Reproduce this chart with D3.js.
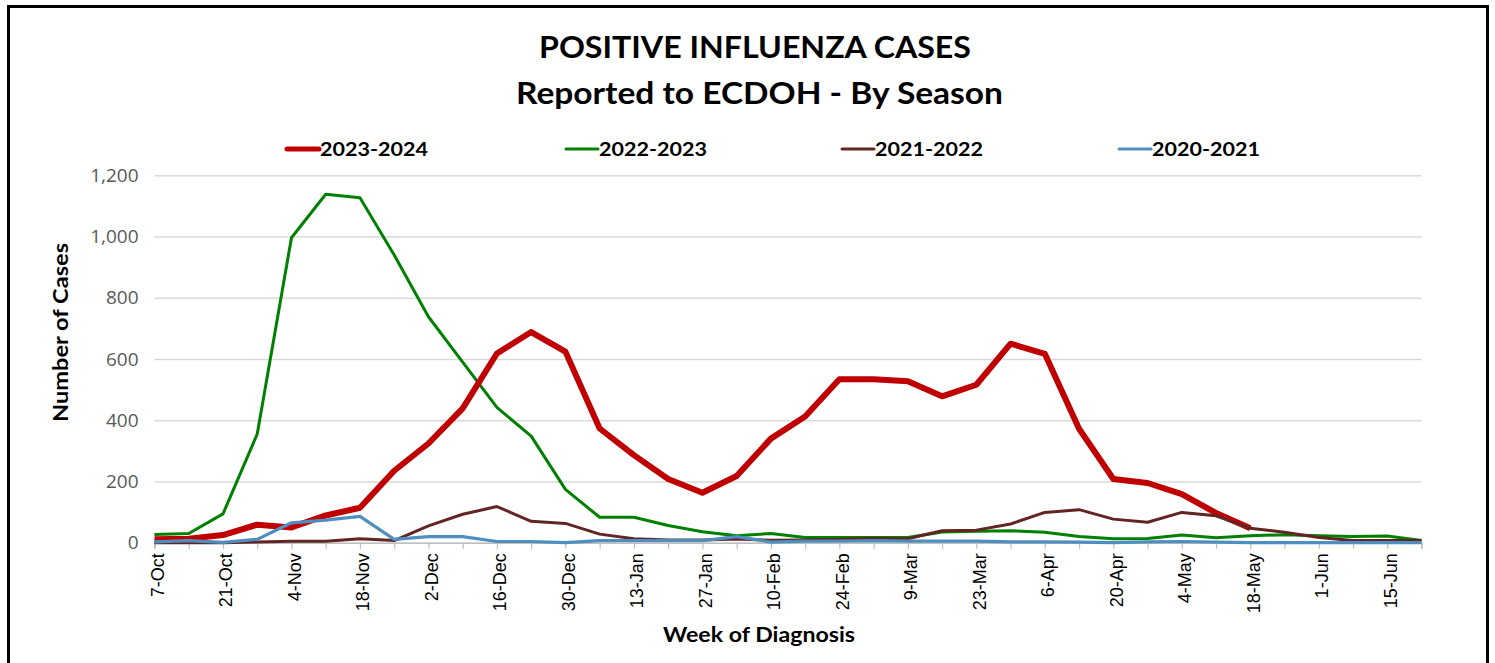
<!doctype html>
<html lang="en">

<head>
    <meta charset="utf-8">
    <title>Positive influenza cases by season</title>
    <style>
        body {
            margin: 0;
            background: #fff;
            font-family: Lato, "Open Sans", Arial, sans-serif;
        }
    </style>
</head>

<body>
    <div id="chart"></div>
</body>
<script src="https://d3js.org/d3.v7.min.js"></script>
<script>

    // week of diagnosis (first day of week)
    var weeks = ["7-Oct", "14-Oct", "21-Oct", "28-Oct", "4-Nov", "11-Nov", "18-Nov", "25-Nov",
        "2-Dec", "9-Dec", "16-Dec", "23-Dec", "30-Dec", "6-Jan", "13-Jan", "20-Jan", "27-Jan",
        "3-Feb", "10-Feb", "17-Feb", "24-Feb", "2-Mar", "9-Mar", "16-Mar", "23-Mar", "30-Mar",
        "6-Apr", "13-Apr", "20-Apr", "27-Apr", "4-May", "11-May", "18-May", "25-May", "1-Jun",
        "8-Jun", "15-Jun", "22-Jun"];

    var seasons = ["2023-2024", "2022-2023", "2021-2022", "2020-2021"];

    // current season stops at 18-May
    var cases2023 = [11, 13, 25, 59, 50, 89, 114, 235, 324, 439, 618, 688, 624, 373, 286, 208, 163,
        218, 340, 412, 534, 534, 527, 478, 516, 650, 617, 372, 208, 195, 159, 97, 47,
        null, null, null, null, null];
    var cases2022 = [27, 30, 94, 355, 996, 1138, 1127, 940, 738, 590, 442, 348, 174, 83, 83, 56, 36,
        23, 30, 17, 17, 17, 17, 35, 37, 39, 34, 20, 13, 14, 25, 16, 23, 26, 23, 20, 22, 7];
    var cases2021 = [0, 0, 0, 2, 5, 5, 13, 7, 55, 93, 118, 70, 63, 28, 13, 9, 9,
        12, 8, 9, 11, 14, 13, 39, 41, 61, 99, 108, 77, 67, 99, 88, 47, 34, 17, 7, 7, 7];
    var cases2020 = [3, 7, 1, 11, 65, 74, 86, 11, 20, 20, 4, 4, 0, 7, 7, 7, 7,
        20, 2, 5, 5, 7, 5, 5, 5, 3, 3, 2, 0, 3, 4, 2, 0, 0, 0, 0, 0, 0];

    var yTicks = [0, 200, 400, 600, 800, 1000, 1200];

    var colours = ["#c00000", "#008000", "#632523", "#4f8fc0"];
    var widths = [6, 3, 3, 3.2];
    var series = [cases2023, cases2022, cases2021, cases2020];

    var W = 1495, H = 663;
    var plotLeft = 154.5, plotRight = 1421.5, plotTop = 175.3, plotBottom = 542.7;

    var svg = d3.select("#chart").append("svg")
        .attr("width", W)
        .attr("height", H);

    var x = d3.scalePoint().domain(weeks).range([plotLeft, plotRight]);
    var y = d3.scaleLinear().domain([0, 1200]).range([plotBottom, plotTop]);

    // frame round the chart (runs off the bottom of the picture)
    svg.append("rect")
        .attr("x", 8.5).attr("y", 6.5)
        .attr("width", 1479).attr("height", 720)
        .style("fill", "none")
        .style("stroke", "#000")
        .style("stroke-width", 3);

    // gridlines
    svg.append("g")
        .attr("transform", "translate(" + plotLeft + ",0)")
        .call(d3.axisLeft(y).tickValues(yTicks).tickSize(-(plotRight - plotLeft)).tickFormat(""))
        .call(function (g) { g.select(".domain").remove(); })
        .selectAll("line")
        .style("stroke", "#d9d9d9")
        .style("stroke-width", 1.5);

    // y axis labels
    svg.append("g")
        .attr("transform", "translate(" + plotLeft + ",0)")
        .call(d3.axisLeft(y).tickValues(yTicks).tickSize(0).tickPadding(16).tickFormat(d3.format(",")))
        .call(function (g) { g.select(".domain").remove(); })
        .selectAll("text")
        .style("font-family", "'Open Sans', sans-serif")
        .style("font-size", "19px")
        .style("fill", "#595959");

    // x axis, a tick every week, a label every two
    var xAxis = svg.append("g")
        .attr("transform", "translate(0," + plotBottom + ")")
        .call(d3.axisBottom(x).tickSize(6).tickPadding(0)
            .tickFormat(function (d, i) { return i % 2 === 0 ? d : ""; }));
    xAxis.select(".domain").style("stroke", "#bfbfbf").style("stroke-width", 1.5);
    xAxis.selectAll("line").style("stroke", "#bfbfbf").style("stroke-width", 1.2);
    xAxis.selectAll("text")
        .attr("transform", "rotate(-90)")
        .attr("x", -10.5)
        .attr("y", 0)
        .attr("dy", "0.5em")
        .style("text-anchor", "end")
        .style("font-family", "'Liberation Sans', Arial, sans-serif")
        .style("font-size", "18px")
        .style("fill", "#000");

    // lines: draw order so that brown/blue sit over red like the original
    var line = d3.line()
        .defined(function (d) { return d != null; })
        .x(function (d, i) { return x(weeks[i]); })
        .y(function (d) { return y(d); });

    [1, 0, 2, 3].forEach(function (k) {
        svg.append("path")
            .datum(series[k])
            .attr("d", line)
            .style("fill", "none")
            .style("stroke", colours[k])
            .style("stroke-width", widths[k])
            .style("stroke-linejoin", "round");
    });

    // titles
    function boldText(txt, cx, by, size, len) {
        return svg.append("text")
            .attr("x", cx).attr("y", by)
            .attr("text-anchor", "middle")
            .attr("textLength", len)
            .attr("lengthAdjust", "spacingAndGlyphs")
            .style("font-weight", "bold")
            .style("font-size", size + "px")
            .style("fill", "#000")
            .text(txt);
    }
    boldText("POSITIVE INFLUENZA CASES", 755, 57.5, 30, 432);
    boldText("Reported to ECDOH - By Season", 759.5, 104, 30, 487);
    boldText("Week of Diagnosis", 759, 642, 21, 192);
    boldText("Number of Cases", 0, 0, 21, 179)
        .attr("transform", "translate(68,332.5) rotate(-90)");

    // legend
    var legendX = [287, 566, 842, 1119];
    var legend = svg.append("g").selectAll("g")
        .data(seasons)
        .enter().append("g")
        .attr("transform", function (d, i) { return "translate(" + legendX[i] + ",149)"; });
    legend.append("line")
        .attr("x1", 0).attr("x2", 32)
        .style("stroke", function (d, i) { return colours[i]; })
        .style("stroke-width", function (d, i) { return i === 0 ? 5 : 3; })
        .style("stroke-linecap", "round");
    legend.append("text")
        .attr("x", 33).attr("y", 7)
        .attr("textLength", 108)
        .attr("lengthAdjust", "spacingAndGlyphs")
        .style("font-weight", "bold")
        .style("font-size", "19.5px")
        .text(function (d) { return d; });

</script>

</html>
